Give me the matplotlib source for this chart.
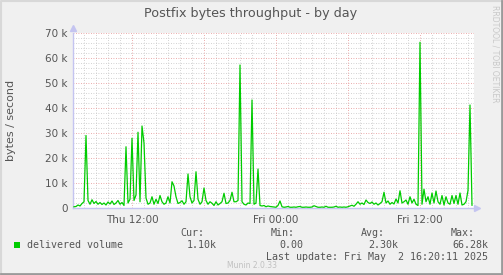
import matplotlib
matplotlib.use('Agg')  # 无显示环境，直接保存
import matplotlib.pyplot as plt
import numpy as np
from matplotlib.patches import Rectangle

# 数据：每 10 分钟一个点，单位 k bytes/s，时间从 Thu 07:10 到 Fri 16:20
start_hour = 7 + 10 / 60          # 从 Thu 00:00 起算的小时数
step_hour = 10 / 60
volume_k = [
    0.5, 0.6, 1.2, 0.8, 1.8, 2.5, 29.0, 3.0, 1.5, 3.3,
    1.8, 2.6, 1.5, 2.2, 1.4, 2.0, 1.2, 2.4, 1.6, 2.8,
    1.4, 2.0, 3.0, 1.5, 2.2, 1.0, 24.5, 2.0, 3.5, 27.9,
    3.0, 5.2, 30.3, 2.5, 32.8, 26.0, 4.0, 1.5, 2.0, 4.5,
    1.5, 3.5, 1.8, 5.0, 2.5, 1.5, 2.0, 4.5, 2.0, 10.5,
    8.8, 4.5, 1.8, 2.2, 2.9, 1.5, 2.5, 13.6, 4.5, 2.0,
    3.0, 14.5, 3.5, 1.5, 2.5, 8.0, 3.0, 1.5, 2.5, 1.9,
    1.0, 2.5, 1.2, 1.8, 2.5, 5.9, 1.8, 2.0, 3.0, 6.3,
    2.5, 2.5, 3.0, 57.2, 2.5, 1.5, 1.2, 2.0, 1.8, 43.2,
    1.5, 2.0, 15.6, 1.0, 0.8, 1.0, 0.5, 0.8, 0.6, 0.5,
    0.4, 0.3, 1.0, 2.8, 0.5, 0.3, 0.4, 0.6, 0.3, 0.3,
    0.4, 0.3, 0.5, 0.6, 0.3, 0.3, 0.4, 0.3, 0.3, 0.4,
    0.9, 0.6, 0.3, 0.3, 0.4, 0.3, 0.7, 0.3, 0.3, 0.3,
    0.4, 0.7, 0.3, 0.4, 0.3, 0.4, 0.3, 0.5, 0.8, 1.1,
    0.7, 1.5, 2.5, 1.5, 2.0, 1.4, 3.2, 2.2, 1.8, 2.4,
    1.5, 2.0, 1.2, 1.8, 2.5, 6.3, 2.0, 2.8, 1.5, 2.2,
    1.6, 3.6, 2.0, 6.9, 2.0, 2.5, 3.2, 1.5, 4.5, 2.0,
    3.5, 1.5, 1.0, 66.3, 1.5, 7.5, 2.5, 4.5, 1.5, 6.0,
    2.0, 6.8, 2.5, 1.5, 5.0, 1.2, 4.5, 2.0, 1.5, 5.0,
    1.8, 5.0, 1.5, 6.0, 1.2, 1.5, 2.5, 7.0, 41.2, 1.1,
]
hours = start_hour + step_hour * np.arange(len(volume_k))
values = np.array(volume_k) * 1000

y_ticks = [0, 10000, 20000, 30000, 40000, 50000, 60000, 70000]
y_labels = ['0', '10 k', '20 k', '30 k', '40 k', '50 k', '60 k', '70 k']
x_ticks = [12, 24, 36]
x_labels = ['Thu 12:00', 'Fri 00:00', 'Fri 12:00']

legend_name = 'delivered volume'
stat_heads = ['Cur:', 'Min:', 'Avg:', 'Max:']
stat_values = ['1.10k', '0.00', '2.30k', '66.28k']
last_update = 'Last update: Fri May  2 16:20:11 2025'

W, H = 503, 275
green = '#00cc00'
txt = '#555555'
axis_col = '#c4c4f0'


def fx(x):
    return x / W


def fy(y):
    return 1 - y / H


fig = plt.figure(figsize=(W / 100, H / 100), dpi=100)
fig.patch.set_facecolor('#f0f0f0')

# 外框：左上浅，右下深
fig.add_artist(plt.Line2D([0.002, 0.002, 0.998], [0.004, 0.996, 0.996], transform=fig.transFigure,
                          color='#d8d8d8', lw=1.5))
fig.add_artist(plt.Line2D([0.002, 0.998, 0.998], [0.004, 0.004, 0.996], transform=fig.transFigure,
                          color='#9a9a9a', lw=2))

x0, x1, ytop, ybot = 73, 474, 33, 208
ax = fig.add_axes([fx(x0), fy(ybot), (x1 - x0) / W, (ybot - ytop) / H])
ax.set_facecolor('white')
ax.set_xlim(7.083, 40.5)
ax.set_ylim(0, 70000)

# 网格：小网格灰色，大网格红色
for h in np.arange(8, 41, 1):
    if h % 6 == 0:
        continue
    ax.axvline(h, color='#c4c4c4', lw=0.6, ls=(0, (1, 2)), zorder=1)
for v in np.arange(2000, 70001, 2000):
    if v % 10000 == 0:
        continue
    ax.axhline(v, color='#c4c4c4', lw=0.6, ls=(0, (1, 2)), zorder=1)
for h in [12, 18, 24, 30, 36]:
    ax.axvline(h, color='#e49090', lw=0.6, ls=(0, (1, 2)), zorder=1)
for v in y_ticks[1:]:
    ax.axhline(v, color='#e49090', lw=0.6, ls=(0, (1, 2)), zorder=1)

ax.plot(hours, values, color=green, lw=0.9, zorder=3)

for s in ['top', 'right']:
    ax.spines[s].set_visible(False)
for s in ['left', 'bottom']:
    ax.spines[s].set_color(axis_col)
    ax.spines[s].set_linewidth(1)
ax.plot([0], [1.03], marker='^', color=axis_col, ms=4, transform=ax.transAxes, clip_on=False)
ax.plot([1.008], [0], marker='>', color=axis_col, ms=4, transform=ax.transAxes, clip_on=False)

ax.set_yticks(y_ticks)
ax.set_yticklabels(y_labels)
ax.set_xticks(x_ticks)
ax.set_xticklabels(x_labels)
ax.tick_params(axis='both', length=0, labelsize=7.5, colors=txt, pad=4)
ax.tick_params(axis='x', pad=5)

fig.text(fx(251), fy(14), 'Postfix bytes throughput - by day', ha='center', va='center',
         fontsize=9.2, color=txt)
fig.text(fx(11), fy(120), 'bytes / second', rotation=90, ha='center', va='center',
         fontsize=8, color=txt)
fig.text(fx(495), fy(5), 'RRDTOOL / TOBI OETIKER', rotation=-90, ha='center', va='top',
         fontsize=5.5, color='#c8c8c8')

# 图例
mono = 'DejaVu Sans Mono'
fig.patches.append(Rectangle((fx(14), fy(248)), 6 / W, 6 / H, transform=fig.transFigure,
                             facecolor=green, edgecolor='none'))
fig.text(fx(27), fy(245), legend_name, ha='left', va='center', family=mono, fontsize=7.2, color=txt)
head_right = [204, 295, 385, 475]
val_right = [217, 303, 398, 488]
for hd, hr in zip(stat_heads, head_right):
    fig.text(fx(hr), fy(233), hd, ha='right', va='center', family=mono, fontsize=7.2, color=txt)
for vl, vr in zip(stat_values, val_right):
    fig.text(fx(vr), fy(245), vl, ha='right', va='center', family=mono, fontsize=7.2, color=txt)
fig.text(fx(488), fy(257), last_update, ha='right', va='center', family=mono, fontsize=7.2, color=txt)
fig.text(fx(252), fy(265), 'Munin 2.0.33', ha='center', va='center', fontsize=5.5, color='#c0c0c0')

plt.savefig('out.png', dpi=100)
plt.close()
